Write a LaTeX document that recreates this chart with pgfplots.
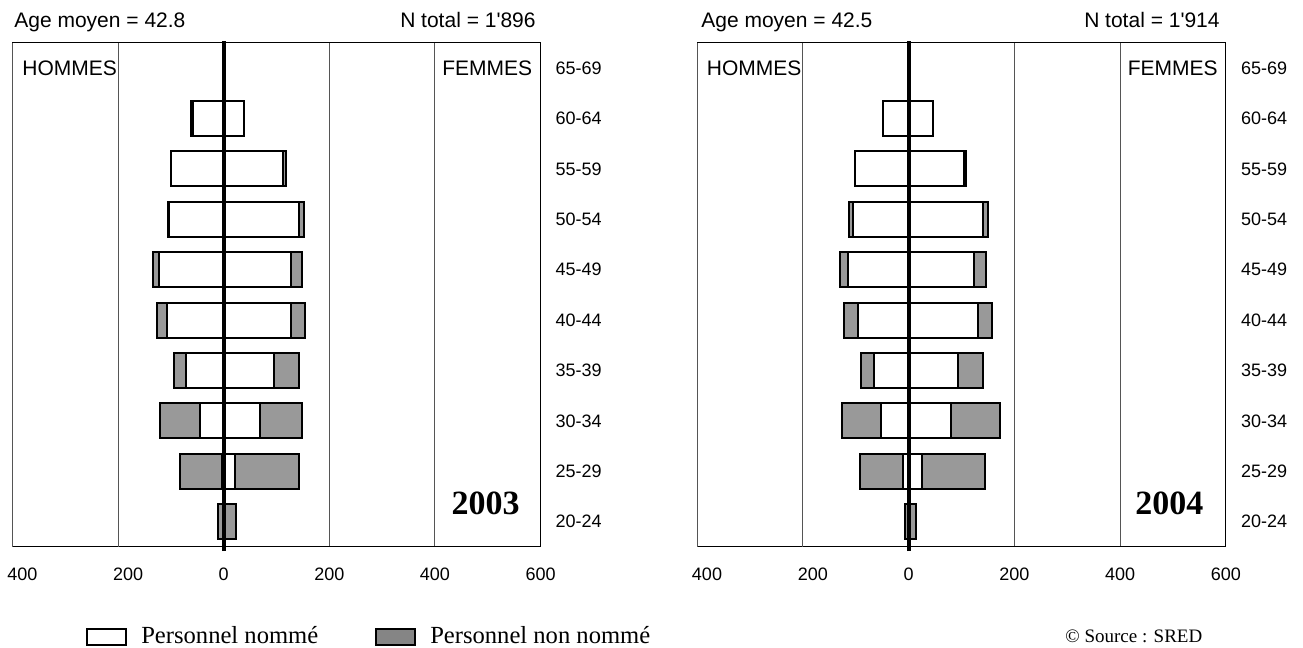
\documentclass[border=0pt]{standalone}
\usepackage{fontspec}
\setmainfont{Liberation Sans}
\newfontfamily\serifx{Liberation Serif}
\usepackage{pgfplots}
\usepackage{pgfplotstable}
\pgfplotsset{compat=1.18}
\definecolor{bargray}{HTML}{999999}
\definecolor{leggray}{HTML}{858585}
\definecolor{gridgray}{HTML}{555555}

% y: 1=20-24 ... 9=60-64 ; men stored negative
\pgfplotstableread{
y mn mt wn wt
1 0 -11 0 23
2 -4 -83 22 142
3 -45 -120 69 148
4 -71 -94 95 142
5 -107 -126 128 154
6 -123 -133 128 149
7 -103 -106 142 152
8 -100 -100 112 118
9 -58 -61 38 38
}\dataA

\pgfplotstableread{
y mn mt wn wt
1 0 -6 0 14
2 -10 -91 26 145
3 -53 -126 81 173
4 -65 -90 94 141
5 -96 -123 131 158
6 -115 -129 124 146
7 -106 -113 140 151
8 -101 -101 104 108
9 -48 -48 47 47
}\dataB

\pgfplotsset{pyr/.style={
  scale only axis, height=252pt,
  xmin=-400, xmax=600, ymin=0.5, ymax=10.5,
  bar width=17.5pt, bar shift=0pt,
  xtick={0,200,400,600}, xticklabels={0,200,400,600},
  extra x ticks={-400,-200}, extra x tick labels={400,200},
  extra x tick style={grid=major, xticklabel style={xshift=5pt}},
  xmajorgrids, grid style={gridgray, line width=0.5pt},
  major tick length=0pt,
  ytick={1,...,10},
  yticklabels={20-24,25-29,30-34,35-39,40-44,45-49,50-54,55-59,60-64,65-69},
  yticklabel pos=right,
  y tick label style={anchor=west, xshift=4pt, font=\fontsize{9}{10}\selectfont},
  x tick label style={yshift=-7pt, font=\fontsize{9}{10}\selectfont},
  /pgf/number format/assume math mode=true,
  axis line style={black, line width=0.5pt},
  clip=false,
}}

\begin{document}
\begin{tikzpicture}
\useasboundingbox (0,0) rectangle (651.5pt,324pt);

\begin{axis}[pyr, width=264pt, at={(6.25pt,50.5pt)}, anchor=south west,
  legend columns=2,
  legend image code/.code={\draw[#1] (0pt,-4pt) rectangle (19.5pt,4pt);},
  legend style={draw=none, fill=none, at={(0.139,-0.1776)}, anchor=west, inner sep=0pt,
    font=\serifx\fontsize{12.3}{13}\selectfont,
    /tikz/every odd column/.append style={column sep=5pt},
    /tikz/every even column/.append style={column sep=26.5pt}},
]
\addlegendimage{draw=black, fill=white, line width=1pt}
\addlegendentry{Personnel nommé}
\addlegendimage{draw=black, fill=leggray, line width=1pt}
\addlegendentry{Personnel non nommé}
\addplot[xbar, draw=black, line width=1pt, fill=bargray, forget plot] table[x=mt, y=y]{\dataA};
\addplot[xbar, draw=black, line width=1pt, fill=white, forget plot] table[x=mn, y=y]{\dataA};
\addplot[xbar, draw=black, line width=1pt, fill=bargray, forget plot] table[x=wt, y=y]{\dataA};
\addplot[xbar, draw=black, line width=1pt, fill=white, forget plot] table[x=wn, y=y]{\dataA};
\addplot[black, line width=2pt, mark=none, forget plot] coordinates {(0,0.42) (0,10.54)};
\node[anchor=west, inner sep=0pt, xshift=4.75pt, font=\fontsize{10.5}{12}\selectfont] at (axis cs:-400,10) {HOMMES};
\node[anchor=east, inner sep=0pt, xshift=-4pt, font=\fontsize{10.5}{12}\selectfont] at (axis cs:600,10) {FEMMES};
\node[font=\serifx\bfseries\fontsize{17}{17}\selectfont] at (axis cs:496,1.36) {2003};
\end{axis}

\begin{axis}[pyr, width=264.5pt, at={(348.5pt,50.5pt)}, anchor=south west]
\addplot[xbar, draw=black, line width=1pt, fill=bargray, forget plot] table[x=mt, y=y]{\dataB};
\addplot[xbar, draw=black, line width=1pt, fill=white, forget plot] table[x=mn, y=y]{\dataB};
\addplot[xbar, draw=black, line width=1pt, fill=bargray, forget plot] table[x=wt, y=y]{\dataB};
\addplot[xbar, draw=black, line width=1pt, fill=white, forget plot] table[x=wn, y=y]{\dataB};
\addplot[black, line width=2pt, mark=none, forget plot] coordinates {(0,0.42) (0,10.54)};
\node[anchor=west, inner sep=0pt, xshift=4.75pt, font=\fontsize{10.5}{12}\selectfont] at (axis cs:-400,10) {HOMMES};
\node[anchor=east, inner sep=0pt, xshift=-4pt, font=\fontsize{10.5}{12}\selectfont] at (axis cs:600,10) {FEMMES};
\node[font=\serifx\bfseries\fontsize{17}{17}\selectfont] at (axis cs:493,1.36) {2004};
\end{axis}

\node[anchor=base west, inner sep=0pt, font=\fontsize{10.5}{12}\selectfont] at (7pt,310pt) {Age moyen = 42.8};
\node[anchor=base east, inner sep=0pt, font=\fontsize{10.5}{12}\selectfont] at (268pt,310pt) {N total = 1\textquotesingle 896};
\node[anchor=base west, inner sep=0pt, font=\fontsize{10.5}{12}\selectfont] at (350.5pt,310pt) {Age moyen = 42.5};
\node[anchor=base east, inner sep=0pt, font=\fontsize{10.5}{12}\selectfont] at (610pt,310pt) {N total = 1\textquotesingle 914};
\node[anchor=base west, inner sep=0pt, font=\serifx\fontsize{9.5}{11}\selectfont] at (532.5pt,2.5pt) {© Source : SRED};
\end{tikzpicture}
\end{document}
